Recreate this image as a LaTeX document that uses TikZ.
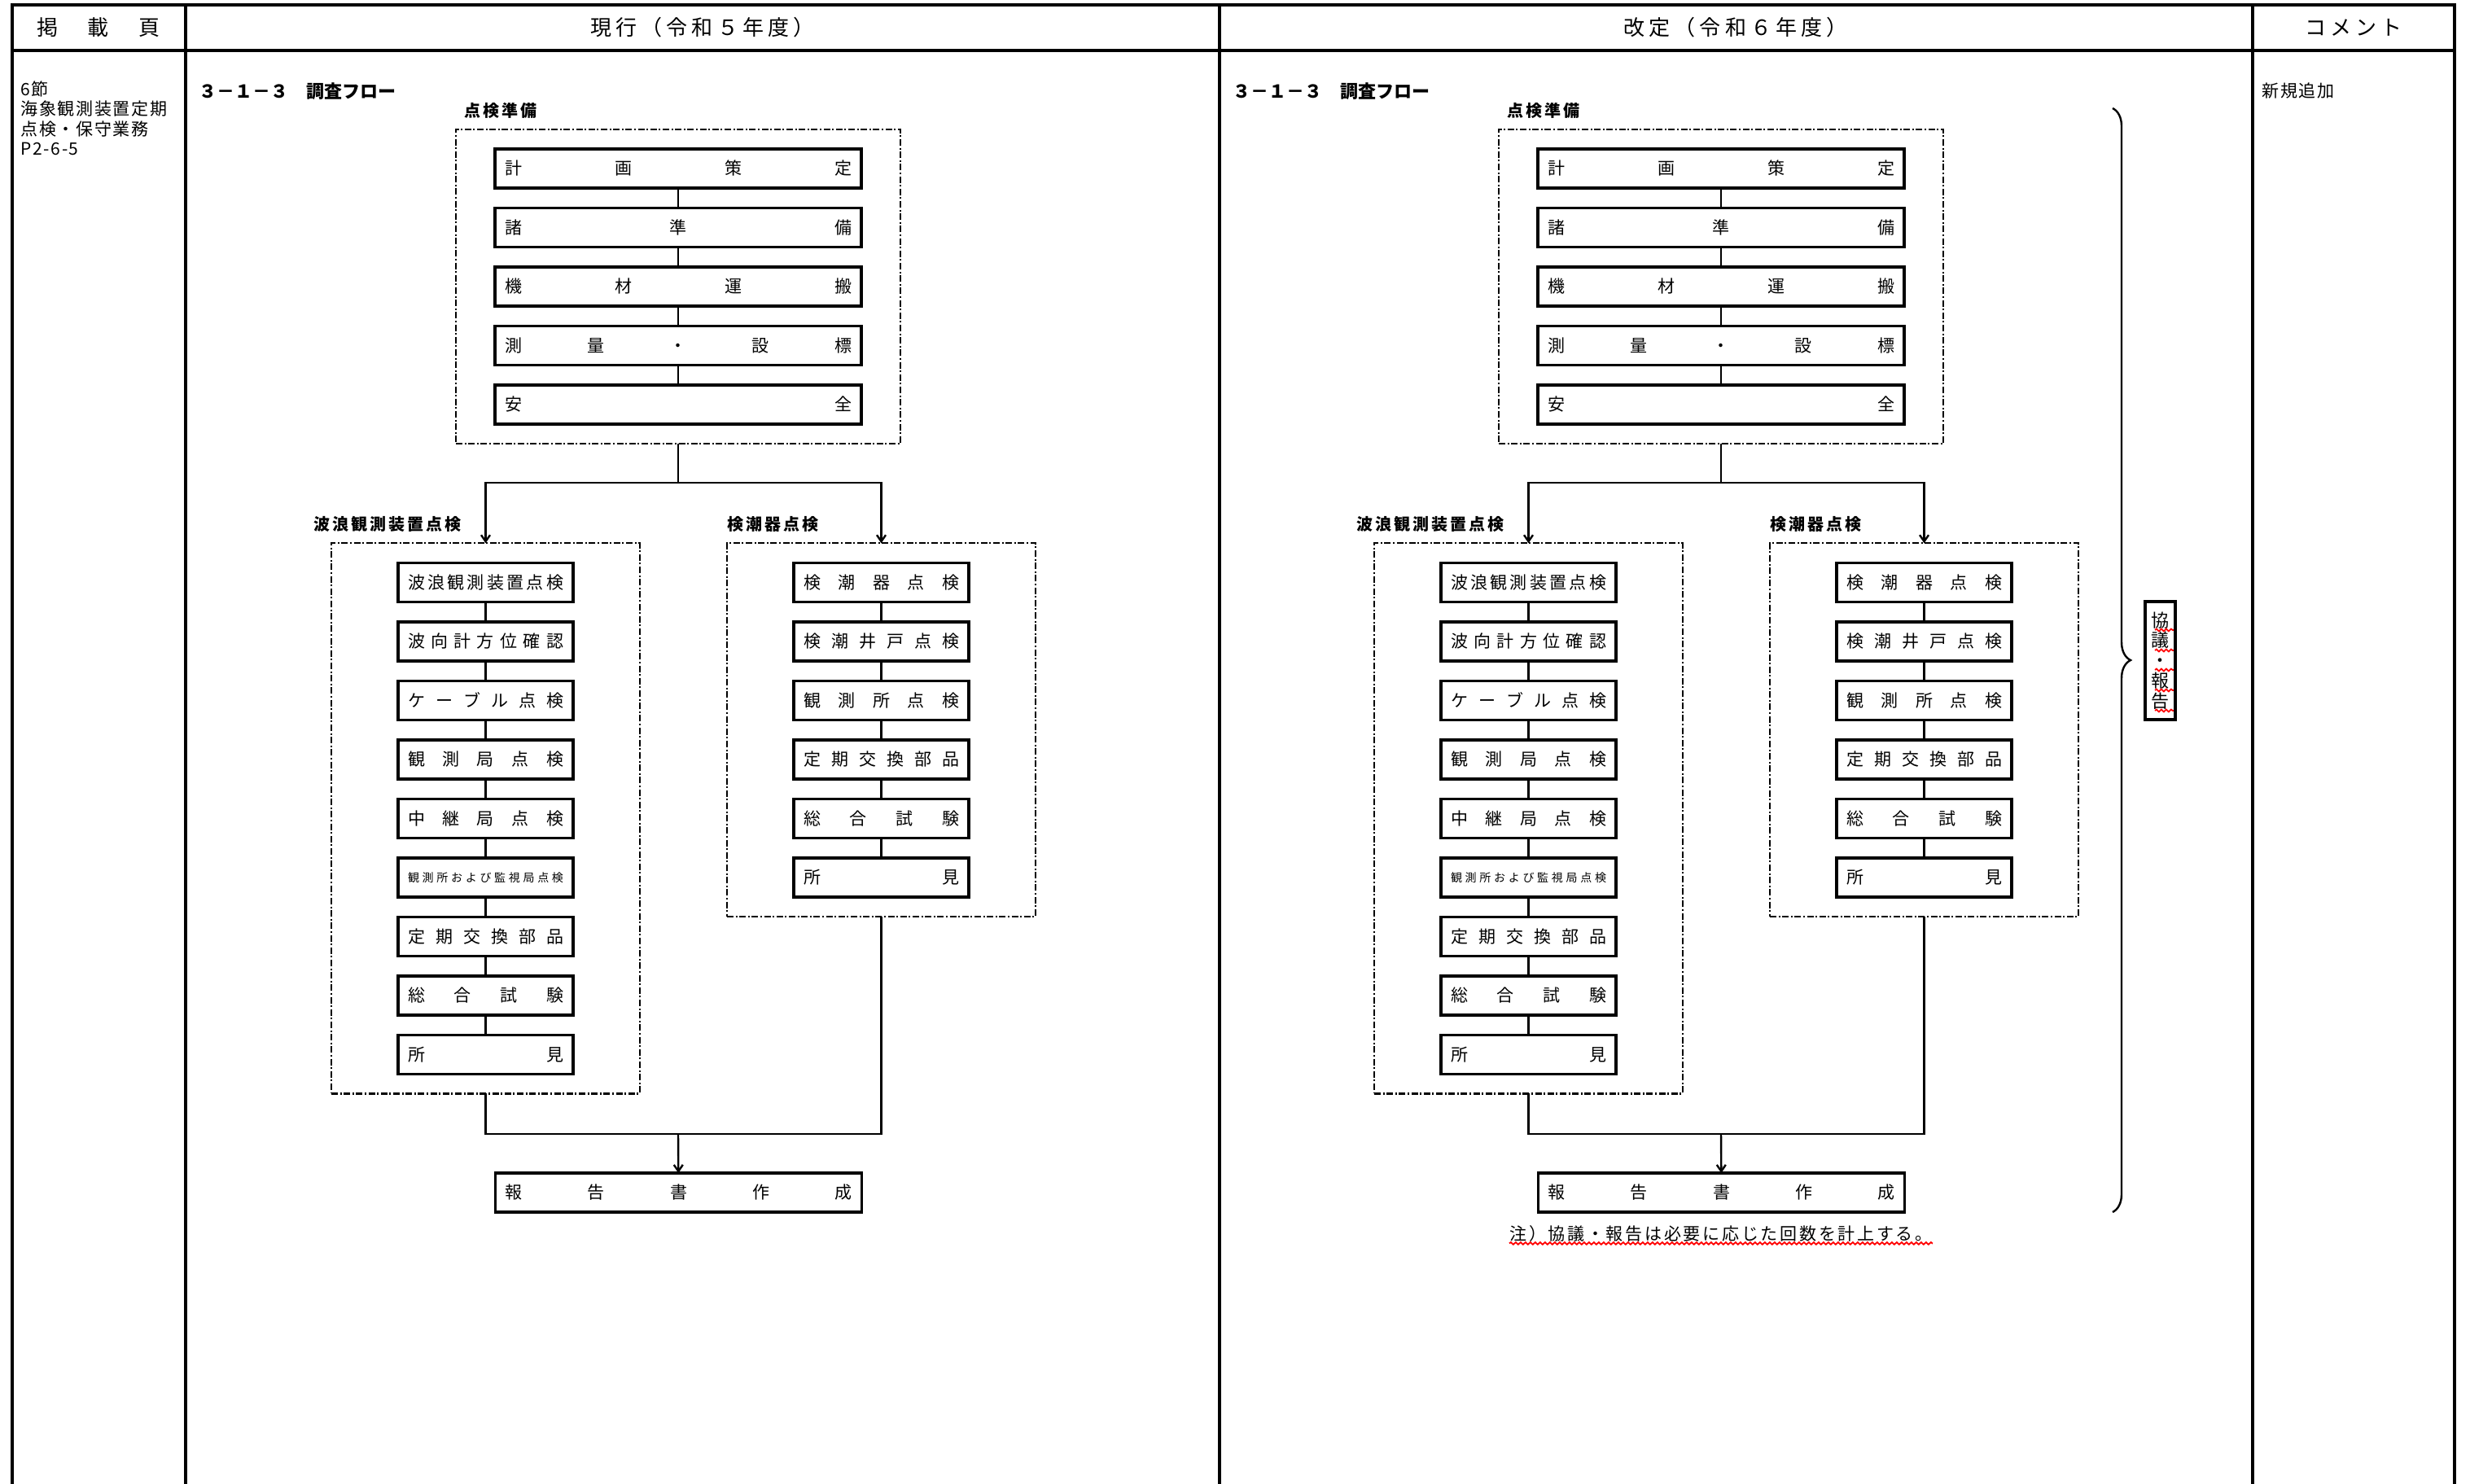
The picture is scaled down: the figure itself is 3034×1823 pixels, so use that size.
\documentclass[tikz,border=0pt]{standalone}
\usepackage{fontspec}
\setmainfont{Noto Sans CJK JP}
\newfontfamily\hdfont[LetterSpace=20]{Noto Sans CJK JP}
\newfontfamily\lblfont[LetterSpace=15]{Noto Sans CJK JP}
\newfontfamily\sidefont[LetterSpace=8]{Noto Sans CJK JP}
\newfontfamily\notefont[LetterSpace=13]{Noto Sans CJK JP}
\usepackage{tikz}
\usetikzlibrary{arrows.meta, positioning, fit, decorations.pathreplacing, decorations.pathmorphing}

\begin{document}
\begin{tikzpicture}[
  x=0.5pt, y=-0.5pt,
  node distance=12.25pt,
  frame/.style={line width=1.9pt},
  bigbox/.style={draw, line width=1.75pt, outer sep=0pt, minimum height=24pt, text width=213pt, inner xsep=6pt, inner ysep=0pt, align=center, font=\fontsize{10.5}{12}\selectfont},
  smallbox/.style={bigbox, text width=95.5pt},
  group/.style={draw, line width=1.2pt, dash pattern=on 4pt off 1.3pt on 1pt off 1.3pt, outer sep=0pt, inner ysep=12pt},
  lbl/.style={anchor=west, inner sep=0pt, font=\lblfont\bfseries\fontsize{10}{12}\selectfont},
  line/.style={line width=1.2pt},
  arr/.style={line, -{Straight Barb[length=4pt, width=5.5pt]}},
  wavy/.style={draw=red, line width=0.9pt, decorate, decoration={snake, amplitude=0.7pt, segment length=3pt}}
]
\useasboundingbox (0,0) rectangle (3034,1823);

% table frame
\draw[frame] (15,1823) -- (15,6) -- (3015,6) -- (3015,1823);
\draw[frame] (15,62) -- (3015,62);
\foreach \cx in {228,1498,2767} \draw[frame] (\cx,6) -- (\cx,1823);

\node[font=\hdfont\fontsize{13}{15}\selectfont] (hd1) at (121,34) {掲　載　頁};
\node[font=\hdfont\fontsize{13}{15}\selectfont] (hd2) at (863,34) {現行（令和５年度）};
\node[font=\hdfont\fontsize{13}{15}\selectfont] (hd3) at (2132,34) {改定（令和６年度）};
\node[font=\hdfont\fontsize{13}{15}\selectfont] (hd4) at (2891,34) {コメント};

\node[anchor=north west, align=left, inner sep=0pt, font=\sidefont\fontsize{10.5}{12.25}\selectfont] (sec) at (25,99) {6節\\海象観測装置定期\\点検・保守業務\\P2-6-5};
\node[anchor=west, inner sep=0pt, font=\sidefont\fontsize{10.5}{12}\selectfont] (cmt) at (2778,112) {新規追加};

\node[anchor=west, inner sep=0pt, font=\bfseries\fontsize{11}{12}\selectfont] (ttla) at (244,112) {３－１－３　調査フロー};
\node[anchor=west, inner sep=0pt, font=\bfseries\fontsize{11}{12}\selectfont] (ttlb) at (1514,112) {３－１－３　調査フロー};

\foreach \dx/\s in {0/a, 1281/b}{
  % preparation
  \node[lbl] (prepl\s) at (570+\dx,136) {点検準備};
  \node[bigbox] (p1\s) at (833+\dx,207) {計\hfill 画\hfill 策\hfill 定};
  \node[bigbox, below=of p1\s] (p2\s) {諸\hfill 準\hfill 備};
  \node[bigbox, below=of p2\s] (p3\s) {機\hfill 材\hfill 運\hfill 搬};
  \node[bigbox, below=of p3\s] (p4\s) {測\hfill 量\hfill ・\hfill 設\hfill 標};
  \node[bigbox, below=of p4\s] (p5\s) {安\hfill 全};
  \node[group, fit=(p1\s)(p5\s), inner xsep=24pt] (prep\s) {};
  % wave gauge
  \node[lbl] (wavel\s) at (385+\dx,644) {波浪観測装置点検};
  \node[smallbox] (w1\s) at (596.5+\dx,715.3) {波\hfill 浪\hfill 観\hfill 測\hfill 装\hfill 置\hfill 点\hfill 検};
  \node[smallbox, below=of w1\s] (w2\s) {波\hfill 向\hfill 計\hfill 方\hfill 位\hfill 確\hfill 認};
  \node[smallbox, below=of w2\s] (w3\s) {ケ\hfill ー\hfill ブ\hfill ル\hfill 点\hfill 検};
  \node[smallbox, below=of w3\s] (w4\s) {観\hfill 測\hfill 局\hfill 点\hfill 検};
  \node[smallbox, below=of w4\s] (w5\s) {中\hfill 継\hfill 局\hfill 点\hfill 検};
  \node[smallbox, below=of w5\s, font=\fontsize{7}{8}\selectfont] (w6\s) {観\hfill 測\hfill 所\hfill お\hfill よ\hfill び\hfill 監\hfill 視\hfill 局\hfill 点\hfill 検};
  \node[smallbox, below=of w6\s] (w7\s) {定\hfill 期\hfill 交\hfill 換\hfill 部\hfill 品};
  \node[smallbox, below=of w7\s] (w8\s) {総\hfill 合\hfill 試\hfill 験};
  \node[smallbox, below=of w8\s] (w9\s) {所\hfill 見};
  \node[group, fit=(w1\s)(w9\s), inner xsep=41pt] (wave\s) {};
  % tide gauge
  \node[lbl] (tidel\s) at (893+\dx,644) {検潮器点検};
  \node[smallbox] (t1\s) at (1082.5+\dx,715.3) {検\hfill 潮\hfill 器\hfill 点\hfill 検};
  \node[smallbox, below=of t1\s] (t2\s) {検\hfill 潮\hfill 井\hfill 戸\hfill 点\hfill 検};
  \node[smallbox, below=of t2\s] (t3\s) {観\hfill 測\hfill 所\hfill 点\hfill 検};
  \node[smallbox, below=of t3\s] (t4\s) {定\hfill 期\hfill 交\hfill 換\hfill 部\hfill 品};
  \node[smallbox, below=of t4\s] (t5\s) {総\hfill 合\hfill 試\hfill 験};
  \node[smallbox, below=of t5\s] (t6\s) {所\hfill 見};
  \node[group, fit=(t1\s)(t6\s), inner xsep=41pt] (tide\s) {};
  % report
  \node[bigbox] (rep\s) at (833.5+\dx,1465) {報\hfill 告\hfill 書\hfill 作\hfill 成};
  \coordinate (jn\s) at (833+\dx,1393);

  \foreach \i [count=\j from 2] in {1,...,4} \draw[line] (p\i\s) -- (p\j\s);
  \foreach \i [count=\j from 2] in {1,...,8} \draw[line] (w\i\s) -- (w\j\s);
  \foreach \i [count=\j from 2] in {1,...,5} \draw[line] (t\i\s) -- (t\j\s);
  \draw[arr] (prep\s.south) -- ++(0,48) -| (wave\s.north);
  \draw[arr] (prep\s.south) -- ++(0,48) -| (tide\s.north);
  \draw[line] (wave\s.south) |- (jn\s) -| (tide\s.south);
  \draw[arr] (jn\s) -- (rep\s);
}

% consultation / report
\draw[line, decorate, decoration={brace, amplitude=11pt}] (2595,133) -- (2595,1489);
\node[draw, line width=1.75pt, minimum width=18.5pt, minimum height=72.5pt, inner sep=0pt, align=center, font=\fontsize{11}{12.4}\selectfont] (talk) at (2653.5,811.5) {協\\議\\・\\報\\告};
\foreach \yy in {774,799,823,848,873} \draw[wavy] (2647,\yy) -- (2670,\yy);

\node[inner sep=0pt, font=\notefont\fontsize{10.5}{12}\selectfont] (note) at (2114,1516) {注）協議・報告は必要に応じた回数を計上する。};
\draw[wavy] ([yshift=-0.5pt]note.south west) -- ([yshift=-0.5pt]note.south east);
\end{tikzpicture}
\end{document}
